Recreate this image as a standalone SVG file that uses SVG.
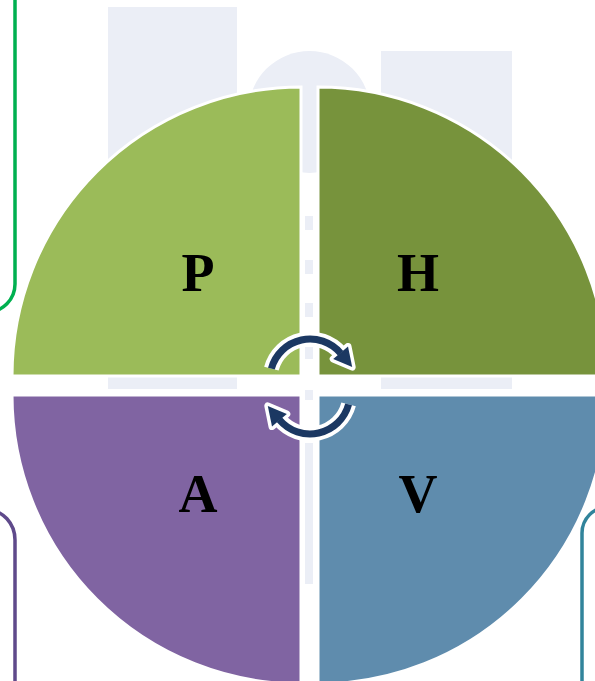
<svg xmlns="http://www.w3.org/2000/svg" width="595" height="681" viewBox="0 0 595 681">
<style>
.wm{fill:#EBEEF6}
.q{stroke:#FFFFFF;stroke-width:3}
.lbl{font-family:"Liberation Serif","Times New Roman",serif;font-weight:bold;font-size:54px;fill:#000;text-anchor:middle}
.side{fill:none;stroke-width:3.5}
.arcW{fill:none;stroke:#FFFFFF;stroke-width:15}
.arcD{fill:none;stroke:#1B3862;stroke-width:7}
.headW{fill:#FFFFFF;stroke:#FFFFFF;stroke-width:7;stroke-linejoin:round}
.headD{fill:#1B3862}
</style>
<rect width="595" height="681" fill="#FFFFFF"/>
<g id="watermark">
<rect class="wm" x="108" y="7" width="129" height="382"/>
<rect class="wm" x="381" y="51" width="131" height="338"/>
<circle class="wm" cx="309.5" cy="112" r="61"/>
<rect class="wm" x="305" y="216" width="8" height="14"/>
<rect class="wm" x="305" y="260" width="8" height="14"/>
<rect class="wm" x="305" y="303" width="8" height="14"/>
<rect class="wm" x="305" y="347" width="8" height="12"/>
<rect class="wm" x="305" y="390" width="8" height="10"/>
<rect class="wm" x="305" y="443" width="8" height="141"/>
</g>
<g id="side-left-top"><rect class="side" x="-40" y="-40" width="55" height="352" rx="28" stroke="#00B050"/></g>
<g id="side-left-bottom"><rect class="side" x="-40" y="510" width="55" height="220" rx="30" stroke="#5F4A8B"/></g>
<g id="side-right-bottom"><rect class="side" x="582" y="507" width="60" height="220" rx="26" stroke="#31849B"/></g>
<g id="node-P">
<path class="q" fill="#9BBB59" d="M301,376 L12,376 A289,289 0 0 1 301,87 Z"/>
<text class="lbl" x="198" y="291">P</text>
</g>
<g id="node-H">
<path class="q" fill="#77933C" d="M318,376 L318,87 A289,289 0 0 1 607,376 Z"/>
<text class="lbl" x="418" y="291">H</text>
</g>
<g id="node-A">
<path class="q" fill="#8064A2" d="M301,395 L301,684 A289,289 0 0 1 12,395 Z"/>
<text class="lbl" x="198" y="512">A</text>
</g>
<g id="node-V">
<path class="q" fill="#5F8CAD" d="M318,395 L607,395 A289,289 0 0 1 318,684 Z"/>
<text class="lbl" x="418" y="512">V</text>
</g>
<g id="connectors">
<g id="arrow-top">
<path class="arcW" d="M271.4,368.6 A40,40 0 0 1 340.6,353.3"/>
<polygon class="headW" points="348,346.5 333.2,359 352.2,367.1"/>
<path class="arcD" d="M271.4,368.6 A40,40 0 0 1 340.6,353.3"/>
<polygon class="headD" points="348,346.5 333.2,359 352.2,367.1"/>
</g>
<g id="arrow-bottom" transform="rotate(180 310 386.5)">
<path class="arcW" d="M271.4,368.6 A40,40 0 0 1 340.6,353.3"/>
<polygon class="headW" points="348,346.5 333.2,359 352.2,367.1"/>
<path class="arcD" d="M271.4,368.6 A40,40 0 0 1 340.6,353.3"/>
<polygon class="headD" points="348,346.5 333.2,359 352.2,367.1"/>
</g>
</g>
</svg>
